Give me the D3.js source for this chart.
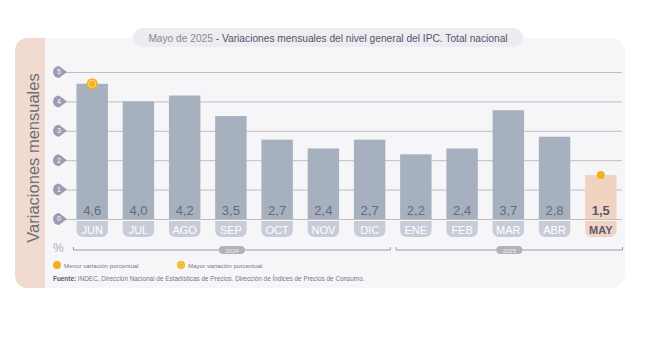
<!DOCTYPE html>
<html>
<head>
<meta charset="utf-8">
<script src="https://cdn.jsdelivr.net/npm/d3@7"></script>
<style>
  body { margin: 0; background: #fff; }
  svg { font-family: "Liberation Sans", Arial, sans-serif; }
</style>
</head>
<body>
<div class="chart"></div>
<script>
var months = ["JUN", "JUL", "AGO", "SEP", "OCT", "NOV", "DIC", "ENE", "FEB", "MAR", "ABR", "MAY"];
var values = [4.6, 4.0, 4.2, 3.5, 2.7, 2.4, 2.7, 2.2, 2.4, 3.7, 2.8, 1.5];
var yTicks = [0, 1, 2, 3, 4, 5];
var years = [
  { label: "2024", from: "JUN", to: "DIC" },
  { label: "2025", from: "ENE", to: "MAY" }
];

var svgWidth = 669;
var svgHeight = 343;

var svg = d3.select(".chart")
  .append("svg")
  .attr("width", svgWidth)
  .attr("height", svgHeight);

// card + left strip
svg.append("rect")
  .attr("x", 15).attr("y", 38).attr("width", 610).attr("height", 250)
  .attr("rx", 14).attr("fill", "#f6f6f9");
svg.append("path")
  .attr("d", "M45,38 L29,38 Q15,38 15,52 L15,274 Q15,288 29,288 L45,288 Z")
  .attr("fill", "#f1dbd0");
svg.append("text")
  .attr("transform", "translate(38.5,158) rotate(-90)")
  .attr("text-anchor", "middle")
  .attr("font-size", 16.5)
  .attr("fill", "#6e6e78")
  .text("Variaciones mensuales");

// title pill
svg.append("rect")
  .attr("x", 133).attr("y", 28).attr("width", 390).attr("height", 19)
  .attr("rx", 9.5).attr("fill", "#ececf1");
var title = svg.append("text")
  .attr("x", 328).attr("y", 41.5)
  .attr("text-anchor", "middle")
  .attr("font-size", 10.2);
title.append("tspan").attr("fill", "#8a8a94").text("Mayo de 2025");
title.append("tspan").attr("fill", "#55556a").text(" - Variaciones mensuales del nivel general del IPC. Total nacional");

var x = d3.scaleBand()
  .domain(months)
  .range([70, 623])
  .paddingInner(0.32)
  .paddingOuter(0.14);

var y = d3.scaleLinear()
  .domain([0, 5])
  .range([219, 72]);

// grid lines
svg.append("g")
  .attr("transform", "translate(622,0)")
  .call(d3.axisRight(y).tickValues(yTicks).tickSize(-556).tickFormat(""))
  .call(g => g.select(".domain").remove())
  .call(g => g.selectAll("line").attr("stroke", "#bdbdc2").attr("stroke-width", 1));

// tick badges
var badge = svg.append("g").selectAll("g")
  .data(yTicks)
  .enter()
  .append("g")
  .attr("transform", d => `translate(59,${y(d)})`);
badge.append("path")
  .attr("d", "M0,-6 A6,6 0 1,0 0,6 L8,0 Z")
  .attr("fill", "#9a9cb0");
badge.append("text")
  .attr("text-anchor", "middle")
  .attr("dy", "0.35em")
  .attr("font-size", 7)
  .attr("fill", "#fff")
  .text(d => d);

// month pills
var pillH = 16;
svg.append("g").selectAll("path")
  .data(months)
  .enter()
  .append("path")
  .attr("d", function(d) {
    var x0 = x(d), w = x.bandwidth(), y0 = y(0) + 2, r = 7;
    return `M${x0},${y0} L${x0 + w},${y0} L${x0 + w},${y0 + pillH - r} Q${x0 + w},${y0 + pillH} ${x0 + w - r},${y0 + pillH} L${x0 + r},${y0 + pillH} Q${x0},${y0 + pillH} ${x0},${y0 + pillH - r} Z`;
  })
  .attr("fill", d => d === "MAY" ? "#f0d3c1" : "#c7ccd8");
svg.append("g").selectAll("text")
  .data(months)
  .enter()
  .append("text")
  .attr("x", d => x(d) + x.bandwidth() / 2)
  .attr("y", y(0) + 14.5)
  .attr("text-anchor", "middle")
  .attr("font-size", 11)
  .attr("font-weight", d => d === "MAY" ? "bold" : "normal")
  .attr("fill", d => d === "MAY" ? "#5a5a70" : "#fff")
  .text(d => d);

// bars
svg.append("g").selectAll("rect")
  .data(values)
  .enter()
  .append("rect")
  .attr("x", (d, i) => x(months[i]))
  .attr("y", d => y(d))
  .attr("width", x.bandwidth())
  .attr("height", d => y(0) - y(d))
  .attr("fill", (d, i) => months[i] === "MAY" ? "#f0d3c1" : "#a7b0be");

// value labels
svg.append("g").selectAll("text")
  .data(values)
  .enter()
  .append("text")
  .attr("x", (d, i) => x(months[i]) + x.bandwidth() / 2)
  .attr("y", y(0) - 4)
  .attr("text-anchor", "middle")
  .attr("font-size", 13)
  .attr("font-weight", (d, i) => months[i] === "MAY" ? "bold" : "normal")
  .attr("fill", (d, i) => months[i] === "MAY" ? "#5a5a70" : "#636b7c")
  .text(d => d3.format(".1f")(d).replace(".", ","));

// max / min markers
var maxI = values.indexOf(d3.max(values));
var minI = values.indexOf(d3.min(values));
svg.append("circle")
  .attr("cx", x(months[maxI]) + x.bandwidth() / 2)
  .attr("cy", y(values[maxI]))
  .attr("r", 5.5)
  .attr("fill", "#f3b21c");
svg.append("circle")
  .attr("cx", x(months[maxI]) + x.bandwidth() / 2)
  .attr("cy", y(values[maxI]))
  .attr("r", 3.5)
  .attr("fill", "none")
  .attr("stroke", "#fbd98a")
  .attr("stroke-width", 1);
svg.append("circle")
  .attr("cx", x(months[minI]) + x.bandwidth() / 2)
  .attr("cy", y(values[minI]))
  .attr("r", 4)
  .attr("fill", "#f3b21c");

// % sign
svg.append("text")
  .attr("x", 53).attr("y", 252)
  .attr("font-size", 12)
  .attr("fill", "#b0b0b8")
  .text("%");

// year brackets
var yearY = 250;
years.forEach(function(yr, k) {
  var x0 = x(yr.from) - (k === 0 ? 3 : 4);
  var x1 = x(yr.to) + x.bandwidth() + (k === 0 ? 5 : 6);
  var g = svg.append("g");
  g.append("path")
    .attr("d", `M${x0},${yearY - 3} L${x0},${yearY} L${x1},${yearY} L${x1},${yearY - 3}`)
    .attr("fill", "none")
    .attr("stroke", "#9a9aa2")
    .attr("stroke-width", 1);
  var cx = (x0 + x1) / 2;
  g.append("rect")
    .attr("x", cx - 13).attr("y", yearY - 4).attr("width", 26).attr("height", 8)
    .attr("rx", 4).attr("fill", "#b2b2b8");
  g.append("text")
    .attr("x", cx).attr("y", yearY + 2.5)
    .attr("text-anchor", "middle")
    .attr("font-size", 6)
    .attr("fill", "#eeeef2")
    .text(yr.label);
});

// legend
svg.append("circle").attr("cx", 57).attr("cy", 265).attr("r", 4).attr("fill", "#f3b21c");
svg.append("text").attr("x", 64).attr("y", 267.5).attr("font-size", 6.2).attr("fill", "#77778a")
  .text("Menor variación porcentual");
svg.append("circle").attr("cx", 181).attr("cy", 265).attr("r", 4).attr("fill", "#f3b21c");
svg.append("circle").attr("cx", 181).attr("cy", 265).attr("r", 2.4).attr("fill", "none")
  .attr("stroke", "#fbd98a").attr("stroke-width", 0.8);
svg.append("text").attr("x", 188).attr("y", 267.5).attr("font-size", 6.2).attr("fill", "#77778a")
  .text("Mayor variación porcentual");

// source
var src = svg.append("text").attr("x", 53).attr("y", 280.5).attr("font-size", 6.4);
src.append("tspan").attr("font-weight", "bold").attr("fill", "#5a5a70").text("Fuente: ");
src.append("tspan").attr("fill", "#77778a")
  .text("INDEC, Dirección Nacional de Estadísticas de Precios. Dirección de Índices de Precios de Consumo.");
</script>
</body>
</html>
